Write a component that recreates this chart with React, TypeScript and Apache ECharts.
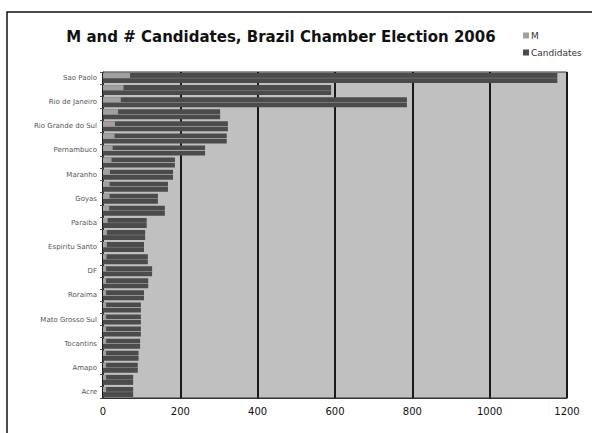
import React, { useEffect, useRef } from "react";
import * as echarts from "echarts";

const states = [
  "Sao Paolo", "Minas Gerais", "Rio de Janeiro", "Bahia", "Rio Grande do Sul", "Parana",
  "Pernambuco", "Ceara", "Maranho", "Para", "Goyas", "Santa Catarina", "Paraiba", "Piaui",
  "Espiritu Santo", "Alagoas", "DF", "Rio Grande do Norte", "Roraima", "Sergipe",
  "Mato Grosso Sul", "Mato Grosso", "Tocantins", "Rondonia", "Amapo", "Amazonas", "Acre",
];
const mValues = [70, 53, 46, 39, 31, 30, 25, 22, 18, 17, 17, 16, 12, 10, 10, 9, 8, 8, 8, 8, 8, 8, 8, 8, 8, 8, 8];
const candidates = [1175, 590, 786, 303, 323, 320, 264, 186, 181, 168, 142, 160, 113, 109, 106, 116, 127, 117, 106, 98, 98, 98, 96, 92, 90, 78, 78];
const xTicks = { min: 0, max: 1200, interval: 200 };

export default function App() {
  const ref = useRef<HTMLDivElement>(null);
  useEffect(() => {
    if (!ref.current) return;
    const chart = echarts.init(ref.current, null, { renderer: "svg" });
    const dark = "#4b4b4b";
    const candColor = new echarts.graphic.LinearGradient(0, 0, 0, 1, [
      { offset: 0, color: dark },
      { offset: 0.44, color: dark },
      { offset: 0.5, color: "#a8a8a8" },
      { offset: 0.56, color: dark },
      { offset: 1, color: dark },
    ]);
    const font = "DejaVu Sans, Verdana, sans-serif";
    chart.setOption({
      animation: false,
      backgroundColor: "#ffffff",
      title: {
        text: "M and # Candidates, Brazil Chamber Election 2006",
        left: 276,
        top: 24,
        textAlign: "center",
        textStyle: { fontFamily: font, fontSize: 15, fontWeight: "bold", color: "#111" },
      },
      legend: {
        orient: "vertical",
        left: 518,
        top: 26,
        itemWidth: 6,
        itemHeight: 6,
        itemGap: 8,
        icon: "rect",
        textStyle: { fontFamily: font, fontSize: 9, color: "#333", padding: [0, 0, 0, -3] },
        data: [
          { name: "M", itemStyle: { color: "#a0a0a0" } },
          { name: "Candidates", itemStyle: { color: dark } },
        ],
      },
      graphic: [
        {
          type: "rect",
          shape: { x: 7, y: 12, width: 620, height: 440 },
          style: { fill: "none", stroke: "#111", lineWidth: 1.5 },
          silent: true,
        },
      ],
      grid: {
        left: 103,
        right: 25,
        top: 72,
        bottom: 35,
        show: true,
        backgroundColor: "#c0c0c0",
        borderColor: "#333",
        borderWidth: 1,
      },
      xAxis: {
        type: "value",
        min: xTicks.min,
        max: xTicks.max,
        interval: xTicks.interval,
        axisLine: { show: true, lineStyle: { color: "#333" } },
        axisTick: { show: false },
        axisLabel: { fontFamily: font, fontSize: 10, color: "#111", margin: 8, formatter: (v: number) => String(v) },
        splitLine: { show: true, lineStyle: { color: "#1a1a1a", width: 2 } },
      },
      yAxis: [
        {
          type: "category",
          data: states,
          inverse: true,
          axisLine: { show: true, lineStyle: { color: "#333" } },
          axisTick: { show: true, length: 3, interval: 0, lineStyle: { color: "#555" } },
          axisLabel: { interval: 1, fontFamily: font, fontSize: 7, color: "#555", margin: 6 },
        },
        {
          type: "category",
          data: states,
          inverse: true,
          show: false,
        },
      ],
      series: [
        {
          name: "Candidates",
          type: "bar",
          yAxisIndex: 0,
          data: candidates,
          barWidth: 10,
          itemStyle: { color: candColor },
        },
        {
          name: "M",
          type: "bar",
          yAxisIndex: 1,
          data: mValues,
          barWidth: 5,
          barGap: "0%",
          itemStyle: { color: "#a0a0a0" },
          z: 3,
        },
        {
          name: "spacer",
          type: "bar",
          yAxisIndex: 1,
          data: mValues.map(() => null),
          barWidth: 5,
          barGap: "0%",
          itemStyle: { color: "transparent" },
        },
      ],
    });
    return () => chart.dispose();
  }, []);
  return <div ref={ref} style={{ width: 592, height: 433, position: "absolute", left: 0, top: 0 }} />;
}
